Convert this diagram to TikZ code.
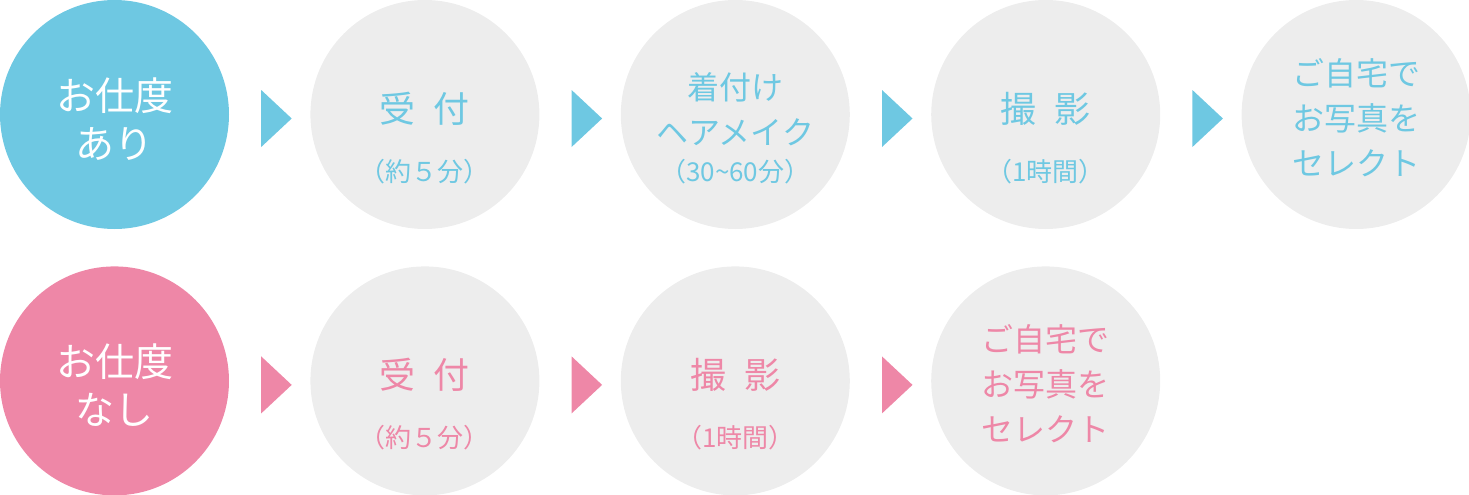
\documentclass[tikz,border=0pt]{standalone}
\usepackage{fontspec}
\setmainfont{Noto Sans CJK JP}
\usetikzlibrary{positioning}
\definecolor{skyblue}{RGB}{110,200,226}
\definecolor{rosepink}{RGB}{238,135,167}
\definecolor{palegray}{RGB}{237,237,237}
\tikzset{
	stage/.style={circle, fill=palegray, minimum size=229pt, inner sep=0pt},
	startstage/.style={stage, fill=#1},
	stagelabel/.style={text=#1, align=center, font=\fontsize{32}{45}\selectfont},
	stagetitle/.style={text=#1, anchor=base, font=\fontsize{36}{36}\selectfont},
	stagetime/.style={text=#1, anchor=base, font=\fontsize{26}{26}\selectfont},
	startlabel/.style={text=white, align=center, font=\fontsize{39}{48}\selectfont}
}
\begin{document}
\begin{tikzpicture}[node distance=81pt]
	\useasboundingbox (0,0) rectangle (1469pt,-495pt);
	% with preparation
	\node [startstage=skyblue] (withA) at (114.5pt,-114.5pt) {};
	\node [stage, right=of withA] (withB) {};
	\node [stage, right=of withB] (withC) {};
	\node [stage, right=of withC] (withD) {};
	\node [stage, right=of withD] (withE) {};
	\fill [skyblue, shift={(withA.east)}] (32pt,24.5pt) -- (62.5pt,-4pt) -- (32pt,-32.5pt) -- cycle;
	\fill [skyblue, shift={(withB.east)}] (32pt,24.5pt) -- (62.5pt,-4pt) -- (32pt,-32.5pt) -- cycle;
	\fill [skyblue, shift={(withC.east)}] (32pt,24.5pt) -- (62.5pt,-4pt) -- (32pt,-32.5pt) -- cycle;
	\fill [skyblue, shift={(withD.east)}] (32pt,24.5pt) -- (62.5pt,-4pt) -- (32pt,-32.5pt) -- cycle;
	\node [startlabel] (withAtext) at ([yshift=-4.5pt]withA.center) {お仕度\\あり};
	\node [stagetitle=skyblue] (withBtitle) at ([yshift=-8pt]withB.center) {受\hspace{.5em}付};
	\node [stagetime=skyblue] (withBtime) at ([yshift=-67pt]withB.center) {（約５分）};
	\node [stagelabel=skyblue] (withCtitle) at ([yshift=5.5pt]withC.center) {着付け\\ヘアメイク};
	\node [stagetime=skyblue] (withCtime) at ([yshift=-67pt]withC.center) {（30\textasciitilde60分）};
	\node [stagetitle=skyblue] (withDtitle) at ([yshift=-8pt]withD.center) {撮\hspace{.5em}影};
	\node [stagetime=skyblue] (withDtime) at ([yshift=-67pt]withD.center) {（1時間）};
	\node [stagelabel=skyblue] (withEtext) at ([yshift=-3pt]withE.center) {ご自宅で\\お写真を\\セレクト};
	% without preparation
	\node [startstage=rosepink, below=37pt of withA] (noA) {};
	\node [stage, right=of noA] (noB) {};
	\node [stage, right=of noB] (noC) {};
	\node [stage, right=of noC] (noD) {};
	\fill [rosepink, shift={(noA.east)}] (32pt,24.5pt) -- (62.5pt,-4pt) -- (32pt,-32.5pt) -- cycle;
	\fill [rosepink, shift={(noB.east)}] (32pt,24.5pt) -- (62.5pt,-4pt) -- (32pt,-32.5pt) -- cycle;
	\fill [rosepink, shift={(noC.east)}] (32pt,24.5pt) -- (62.5pt,-4pt) -- (32pt,-32.5pt) -- cycle;
	\node [startlabel] (noAtext) at ([yshift=-4.5pt]noA.center) {お仕度\\なし};
	\node [stagetitle=rosepink] (noBtitle) at ([yshift=-8pt]noB.center) {受\hspace{.5em}付};
	\node [stagetime=rosepink] (noBtime) at ([yshift=-67pt]noB.center) {（約５分）};
	\node [stagetitle=rosepink] (noCtitle) at ([yshift=-8pt]noC.center) {撮\hspace{.5em}影};
	\node [stagetime=rosepink] (noCtime) at ([yshift=-67pt]noC.center) {（1時間）};
	\node [stagelabel=rosepink] (noDtext) at ([yshift=-3pt]noD.center) {ご自宅で\\お写真を\\セレクト};
\end{tikzpicture}
\end{document}
